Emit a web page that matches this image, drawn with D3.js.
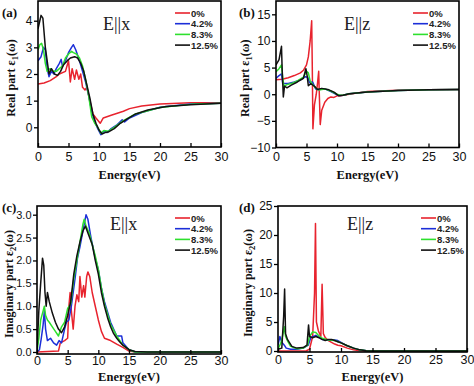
<!DOCTYPE html>
<html>
<head>
<meta charset="utf-8">
<script src="https://cdn.jsdelivr.net/npm/d3@7"></script>
<style>
  body { margin: 0; background: #fff; }
  svg { display: block; }
</style>
</head>
<body>
<svg id="chart" width="474" height="386"></svg>
<script>
// legend names and colours
const seriesNames = ['0%', '4.2%', '8.3%', '12.5%'];
const seriesColors = ['#e8232e', '#1c2fd8', '#2ee02e', '#111111'];
const xTicks = [0, 5, 10, 15, 20, 25, 30];

// (a) real part, E||x  -- [energy, value]
const reX_0 = [[0,1.62],[1,1.66],[2,1.75],[3,1.9],[3.5,2.0],[4.5,2.1],[5,2.5],[5.3,1.7],[5.6,2.2],[6,1.8],[6.3,2.15],[6.7,1.8],[7,2.0],[7.3,1.5],[7.7,1.4],[8,1.5],[8.5,1.0],[9,0.5],[9.5,0.35],[10.2,0.15],[10.7,0.35],[12,0.45],[14,0.6],[15,0.7],[17,0.8],[20,0.87],[25,0.92],[30,0.92]];
const reX_42 = [[0,2.5],[0.5,2.65],[0.9,3.0],[1.2,2.9],[1.5,2.2],[1.8,1.9],[2.2,2.1],[2.6,2.0],[3,2.2],[3.5,2.4],[3.8,2.55],[4,2.3],[4.5,2.5],[5,2.8],[5.5,3.0],[5.8,3.1],[6.2,2.9],[6.8,2.5],[7.3,2.1],[7.8,1.7],[8.3,1.2],[8.8,0.6],[9.3,0.2],[9.8,-0.05],[10.3,-0.28],[10.8,-0.15],[11.3,-0.2],[12,-0.05],[13,0.1],[13.8,0.28],[14.2,0.2],[15,0.35],[17,0.55],[20,0.75],[25,0.87],[30,0.9]];
const reX_83 = [[0,2.9],[0.3,3.1],[0.6,3.15],[0.9,2.9],[1.2,2.4],[1.5,2.1],[2,2.2],[2.5,2.1],[3,2.1],[3.5,2.2],[4,2.3],[4.5,2.6],[5,2.75],[5.5,2.85],[5.8,2.8],[6.3,2.75],[6.8,2.6],[7.3,2.3],[7.8,1.8],[8.3,1.2],[8.8,0.4],[9.3,0.15],[9.8,0.0],[10.3,-0.22],[10.8,-0.12],[11.5,-0.15],[12.5,0.0],[14,0.25],[16,0.5],[20,0.74],[25,0.86],[30,0.9]];
const reX_125 = [[0,3.7],[0.3,4.0],[0.5,4.2],[0.8,4.1],[1.2,3.0],[1.5,2.5],[1.8,2.0],[2.2,2.2],[2.7,2.0],[3.2,1.95],[3.7,2.1],[4.2,2.35],[4.8,2.5],[5.3,2.6],[6,2.65],[6.5,2.6],[7,2.4],[7.5,2.1],[8,1.6],[8.5,1.1],[9,0.5],[9.5,0.15],[10,-0.1],[10.5,-0.25],[11,-0.2],[11.5,-0.18],[12.5,-0.05],[13.5,0.15],[14.5,0.3],[16,0.5],[18,0.65],[21,0.78],[25,0.85],[30,0.9]];

// (b) real part, E||z
const reZ_0 = [[0,2.7],[1,2.8],[2,3.1],[3,3.5],[4,4.0],[4.5,4.5],[5,5.5],[5.3,7],[5.6,10],[5.85,13.8],[5.95,5],[6.05,-6.5],[6.3,-2],[6.6,0],[6.8,2],[7.0,4.3],[7.1,0],[7.25,-5.7],[7.5,-3],[8,-1.5],[8.5,-0.8],[9,-0.5],[9.5,-0.6],[10,-0.3],[10.5,-0.3],[11,-0.2],[12,0],[13,0.2],[15,0.5],[20,0.75],[25,0.85],[30,0.9]];
const reZ_42 = [[0,3.0],[0.5,3.5],[0.9,3.8],[1.1,2.0],[1.3,2.0],[2,2.0],[3,2.3],[4,2.7],[4.8,3.3],[5.2,3.2],[5.5,2.2],[6,2.3],[6.5,1.0],[7,0.9],[8,1.0],[9,0.5],[10,-0.1],[10.5,-0.25],[11,-0.2],[12,0.1],[15,0.4],[20,0.7],[25,0.85],[30,0.9]];
const reZ_83 = [[0,4.2],[0.5,4.8],[0.9,5.5],[1.1,3],[1.3,1.5],[1.8,1.8],[2.5,2.0],[3.5,2.5],[4.5,3.2],[5.0,4.3],[5.3,4.0],[5.6,2.5],[6,1.8],[6.5,1.2],[7,0.8],[8,1.0],[9,0.6],[10,0],[10.5,-0.2],[11,-0.2],[12,0.1],[15,0.4],[20,0.7],[25,0.85],[30,0.9]];
const reZ_125 = [[0,5.5],[0.5,6.5],[0.9,9],[1.0,5],[1.2,-0.5],[1.4,1.5],[1.8,1.2],[2.5,1.7],[3.5,2.3],[4.5,3.0],[4.9,4.8],[5.1,3.5],[5.3,1.6],[5.7,2.0],[6.3,1.5],[6.8,0.9],[7.5,1.1],[8.5,0.9],[9.5,0.4],[10.3,-0.3],[11,-0.2],[12,0.1],[15,0.4],[20,0.7],[25,0.85],[30,0.9]];

// (c) imaginary part, E||x
const imX_0 = [[0,0],[3.5,0.02],[3.8,0.2],[4.5,0.25],[5,0.3],[5.2,1.0],[5.4,1.3],[5.6,0.9],[5.9,0.5],[6.2,1.0],[6.5,1.25],[6.8,1.1],[7.0,1.65],[7.3,1.2],[7.6,1.45],[7.8,1.2],[8.1,1.65],[8.3,1.75],[8.6,1.65],[9,1.3],[9.5,1.0],[10,0.7],[10.5,0.45],[11,0.3],[12,0.25],[13,0.17],[14,0.1],[15,0.02],[16,0],[30,0]];
const imX_42 = [[0,0],[0.4,0.05],[0.7,0.3],[1.0,0.6],[1.2,0.9],[1.4,0.5],[1.7,0.25],[2.2,0.3],[2.7,0.2],[3.2,0.15],[3.6,0.25],[4.0,0.2],[4.5,0.5],[4.8,0.65],[5.2,0.7],[5.6,1.0],[6.2,1.6],[6.6,2.05],[7.0,2.3],[7.5,2.65],[8.0,3.0],[8.3,2.9],[8.8,2.5],[9.5,2.05],[10,1.8],[10.5,1.4],[11,1.1],[12,0.65],[13,0.35],[13.8,0.35],[14,0.2],[15,0.05],[16,0],[30,0]];
const imX_83 = [[0,0],[0.3,0.3],[0.6,0.7],[0.9,0.85],[1.2,1.0],[1.4,0.8],[1.7,0.7],[2.0,0.65],[2.5,0.55],[3,0.45],[3.5,0.35],[4,0.55],[4.5,0.65],[5,0.95],[5.5,1.05],[6,1.6],[6.5,2.0],[7,2.4],[7.5,2.8],[7.7,2.9],[8.0,2.75],[8.5,2.6],[9,2.35],[9.5,2.1],[10,1.8],[10.5,1.4],[11,1.05],[12,0.6],[13,0.35],[14,0.15],[15,0.05],[16,0],[30,0]];
const imX_125 = [[0,0],[0.3,0.9],[0.6,1.5],[0.9,2.05],[1.1,1.9],[1.3,1.3],[1.5,1.0],[1.7,1.3],[2.0,1.1],[2.5,0.85],[3,0.65],[3.5,0.5],[4,0.42],[4.5,0.55],[5,0.8],[5.5,1.1],[6,1.7],[6.5,2.1],[7,2.4],[7.5,2.65],[7.9,2.75],[8.3,2.6],[9,2.35],[9.5,2.0],[10,1.7],[10.5,1.3],[11,1.0],[11.5,0.75],[12,0.55],[12.5,0.4],[13,0.3],[13.5,0.22],[14,0.15],[15,0.05],[16,0.01],[18,0],[30,0]];

// (d) imaginary part, E||z
const imZ_0 = [[0,0],[4.5,0.05],[5,0.3],[5.5,2.5],[5.8,10],[5.95,22],[6.1,5],[6.4,3.5],[6.8,2.5],[7.0,11.5],[7.2,3],[7.5,2.3],[8,1.8],[8.5,1.5],[9,1.2],[9.5,1.0],[10,0.9],[11,0.5],[12,0.2],[13,0.05],[14,0],[30,0]];
const imZ_42 = [[0,1.0],[0.3,2.5],[0.6,1.5],[1.0,1.0],[1.3,0.5],[2,0.3],[3,0.3],[4,0.5],[4.8,1.0],[5.2,2.3],[5.6,2.5],[6,2.7],[6.5,2.4],[7,2.0],[8,1.9],[9,1.9],[9.5,1.8],[10,1.5],[11,0.9],[12,0.5],[13,0.2],[14,0.05],[15,0],[30,0]];
const imZ_83 = [[0,0.3],[0.5,1.5],[0.8,3.0],[1.0,4.2],[1.2,2.5],[1.5,1.8],[2,0.8],[3,0.4],[4,0.5],[4.7,1.0],[5.0,2.5],[5.5,3.3],[6.0,3.2],[6.5,2.6],[7,2.2],[8,1.9],[9,1.8],[10,1.4],[11,0.9],[12,0.5],[13,0.2],[14,0.05],[15,0],[30,0]];
const imZ_125 = [[0,0.3],[0.6,0.5],[0.9,6],[1.05,10.7],[1.2,3],[1.5,2],[1.8,1.5],[2.2,0.8],[3,0.5],[4,0.6],[4.6,1.0],[4.85,4.5],[5.0,2.5],[5.5,2.3],[6,2.5],[6.5,2.3],[7,2.0],[7.5,1.8],[8,2.0],[8.5,2.0],[9,1.8],[9.5,1.6],[10,1.4],[11,0.9],[12,0.5],[13,0.2],[14,0.05],[15,0],[30,0]];

const svg = d3.select('#chart');

const panels = [
  { tag: '(a)', title: 'x', ylabel: 'Real part ε', sub: '1',
    box: [38, 221, 1, 147], yDomain: [-0.74, 4.74], yTicks: [0, 1, 2, 3, 4], fmt: d3.format('d'),
    data: [reX_0, reX_42, reX_83, reX_125], tagPos: [2, 17], titlePos: [103, 30], ylabX: 11, xlabY: 179, pad: 5, yFont: 12 },
  { tag: '(b)', title: 'z', ylabel: 'Real part ε', sub: '1',
    box: [276, 459, 1, 147.5], yDomain: [-10, 17.5], yTicks: [-10, -5, 0, 5, 10, 15], fmt: d3.format('d'),
    data: [reZ_0, reZ_42, reZ_83, reZ_125], tagPos: [239, 17], titlePos: [344, 30], ylabX: 245, xlabY: 179, pad: 5, yFont: 12 },
  { tag: '(c)', title: 'x', ylabel: 'Imaginary part ε', sub: '2',
    box: [37, 221, 206, 354], yDomain: [-0.044, 3.19], yTicks: [0, 0.5, 1, 1.5, 2, 2.5, 3], fmt: d3.format('.1f'),
    data: [imX_0, imX_42, imX_83, imX_125], tagPos: [2, 212], titlePos: [110, 230], ylabX: 9, xlabY: 381, pad: 2, yFont: 11 },
  { tag: '(d)', title: 'z', ylabel: 'Imaginary part ε', sub: '2',
    box: [278, 467, 206, 352], yDomain: [-0.17, 25], yTicks: [0, 5, 10, 15, 20, 25], fmt: d3.format('d'),
    data: [imZ_0, imZ_42, imZ_83, imZ_125], tagPos: [239, 212], titlePos: [347, 230], ylabX: 248, xlabY: 381, pad: 3, yFont: 12 }
];

panels.forEach(p => {
  const [x0, x1, y0, y1] = p.box;
  const x = d3.scaleLinear().domain([0, 30]).range([x0, x1]);
  const y = d3.scaleLinear().domain(p.yDomain).range([y1, y0]);
  const g = svg.append('g');

  const clipId = 'clip' + p.tag.replace(/\W/g, '');
  svg.append('clipPath').attr('id', clipId)
    .append('rect').attr('x', x0).attr('y', y0).attr('width', x1 - x0).attr('height', y1 - y0);

  // curves
  const line = d3.line().x(d => x(d[0])).y(d => y(d[1]));
  p.data.forEach((s, i) => {
    g.append('path')
      .datum(s)
      .attr('clip-path', `url(#${clipId})`)
      .attr('fill', 'none')
      .attr('stroke', seriesColors[i])
      .attr('stroke-width', 1.5)
      .attr('stroke-linejoin', 'round')
      .attr('d', line);
  });

  // axes: x ticks point in, y ticks point out
  const xAxis = g.append('g')
    .attr('transform', `translate(0,${y1})`)
    .call(d3.axisBottom(x).tickValues(xTicks).tickSize(-4).tickPadding(p.pad));
  const yAxis = g.append('g')
    .attr('transform', `translate(${x0},0)`)
    .call(d3.axisLeft(y).tickValues(p.yTicks).tickFormat(p.fmt).tickSize(4).tickPadding(1.5));
  [xAxis, yAxis].forEach(a => {
    a.select('.domain').remove();
    a.selectAll('line').attr('stroke', '#000').attr('stroke-width', 1.3);
    a.selectAll('text').attr('font-family', 'Liberation Sans, Arial, sans-serif')
      .attr('font-size', 12.5).attr('fill', '#111');
  });
  yAxis.selectAll('text').attr('font-size', p.yFont);

  // frame
  g.append('rect')
    .attr('x', x0).attr('y', y0).attr('width', x1 - x0).attr('height', y1 - y0)
    .attr('fill', 'none').attr('stroke', '#000').attr('stroke-width', 1.6);

  // legend
  seriesNames.forEach((name, i) => {
    const ly = y0 + 12 + i * 10.7;
    g.append('line')
      .attr('x1', x1 - 46).attr('x2', x1 - 31).attr('y1', ly).attr('y2', ly)
      .attr('stroke', seriesColors[i]).attr('stroke-width', 1.6);
    g.append('text')
      .attr('x', x1 - 30).attr('y', ly + 3.5)
      .attr('font-family', 'Liberation Sans, Arial, sans-serif')
      .attr('font-weight', 'bold').attr('font-size', 9.5).attr('fill', '#222')
      .text(name);
  });

  // title E||x
  g.append('text')
    .attr('x', p.titlePos[0]).attr('y', p.titlePos[1])
    .attr('font-family', 'Liberation Serif, Times New Roman, serif')
    .attr('font-size', 18).attr('fill', '#222')
    .text('E||' + p.title);

  // panel tag
  g.append('text')
    .attr('x', p.tagPos[0]).attr('y', p.tagPos[1])
    .attr('font-family', 'Liberation Serif, Times New Roman, serif')
    .attr('font-weight', 'bold').attr('font-size', 13).attr('fill', '#111')
    .text(p.tag);

  // x label
  g.append('text')
    .attr('x', (x0 + x1) / 2).attr('y', p.xlabY)
    .attr('text-anchor', 'middle')
    .attr('font-family', 'Liberation Serif, Times New Roman, serif')
    .attr('font-weight', 'bold').attr('font-size', 12.5).attr('fill', '#111')
    .text('Energy(eV)');

  // y label
  const yl = g.append('text')
    .attr('transform', `translate(${p.ylabX},${(y0 + y1) / 2 + 4}) rotate(-90)`)
    .attr('text-anchor', 'middle')
    .attr('dy', '0.35em')
    .attr('font-family', 'Liberation Serif, Times New Roman, serif')
    .attr('font-weight', 'bold').attr('font-size', 12).attr('fill', '#111');
  yl.append('tspan').text(p.ylabel);
  yl.append('tspan').attr('font-size', 8.5).attr('dy', '3').text(p.sub);
  yl.append('tspan').attr('dy', '-3').text('(ω)');
});
</script>
</body>
</html>
